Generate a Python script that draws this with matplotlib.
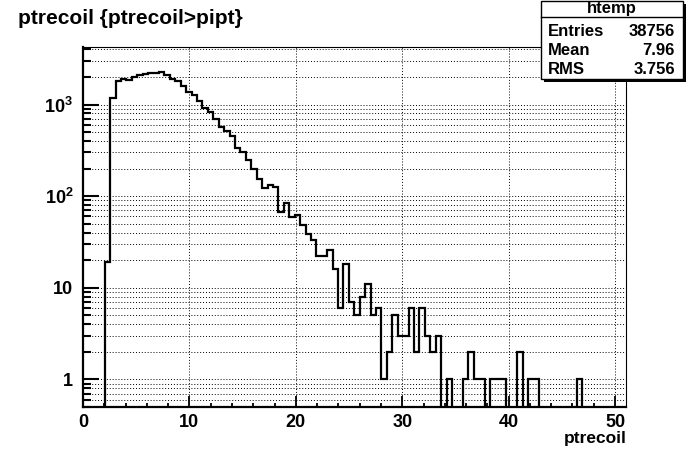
import numpy as np
import matplotlib
matplotlib.use("Agg")
import matplotlib.pyplot as plt
from matplotlib.ticker import MultipleLocator, LogLocator, FuncFormatter, NullFormatter
from matplotlib.patches import Rectangle

plt.rcParams['font.family'] = ['Liberation Sans', 'DejaVu Sans']
plt.rcParams['font.weight'] = 'bold'
plt.rcParams['mathtext.fontset'] = 'custom'
plt.rcParams['mathtext.rm'] = 'Liberation Sans:bold'
plt.rcParams['mathtext.bf'] = 'Liberation Sans:bold'
plt.rcParams['mathtext.it'] = 'Liberation Sans:bold'

# histogram htemp: 100 bins over [0, 51]
x_min, x_max, n_bins = 0.0, 51.0, 100
counts = [
    0, 0, 0, 0, 19, 1186, 1820, 1913, 1850, 2010,
    2113, 2167, 2222, 2230, 2280, 2084, 1913, 1820, 1592, 1380,
    1270, 1100, 922, 822, 695, 569, 514, 456, 337, 305,
    248, 198, 154, 122, 132, 126, 67, 85, 59, 63,
    49, 39, 33, 22, 22, 26, 16, 6, 18, 7,
    5, 8, 11, 5, 6, 1, 2, 5, 3, 3,
    6, 2, 6, 3, 2, 3, 0, 1, 0, 0,
    1, 2, 1, 1, 0, 1, 1, 1, 0, 0,
    2, 0, 1, 1, 0, 0, 0, 0, 0, 0,
    0, 1, 0, 0, 0, 0, 0, 0, 0, 0,
]
title = "ptrecoil {ptrecoil>pipt}"
x_title = "ptrecoil"
stats_name = "htemp"
stats_labels = ["Entries", "Mean", "RMS"]
stats_values = ["38756", "7.96", "3.756"]

W, H = 696, 474


def fx(px):
    return px / W


def fy(py):
    return 1 - py / H


fig = plt.figure(figsize=(W / 100, H / 100), dpi=100)
ax = fig.add_axes([fx(83), fy(406.9), (625.7 - 83) / W, (406.9 - 46.5) / H])

edges = np.linspace(x_min, x_max, n_bins + 1)
vals = np.array(counts, dtype=float)
vals = np.where(vals > 0, vals, 1e-3)  # empty bins drop to the frame bottom
ax.stairs(vals, edges, color='black', linewidth=1.6, baseline=None)

ax.set_yscale('log')
ax.set_xlim(x_min, x_max)
ax.set_ylim(0.5, 4300)

ax.xaxis.set_major_locator(MultipleLocator(10))
ax.xaxis.set_minor_locator(MultipleLocator(2))
ax.yaxis.set_major_locator(LogLocator(base=10))
ax.yaxis.set_minor_locator(LogLocator(base=10, subs=np.arange(2, 10)))


def ylab(v, pos):
    e = int(round(np.log10(v)))
    if e == 0:
        return '1'
    if e == 1:
        return '10'
    return r'$10^{%d}$' % e


ax.yaxis.set_major_formatter(FuncFormatter(ylab))
ax.yaxis.set_minor_formatter(NullFormatter())

ax.tick_params(axis='x', which='major', direction='in', length=8, width=1.3,
               labelsize=13, pad=5)
ax.tick_params(axis='x', which='minor', direction='in', length=3.2, width=1.3)
ax.tick_params(axis='y', which='major', direction='in', length=11.5, width=1.5,
               labelsize=13, pad=7)
ax.tick_params(axis='y', which='minor', direction='in', length=5.8, width=1.5)
for lab in ax.get_xticklabels() + ax.get_yticklabels():
    lab.set_fontweight('bold')

ax.grid(True, which='major', axis='x', color='black', linestyle=(0, (1, 2)), linewidth=0.7)
ax.grid(True, which='both', axis='y', color='black', linestyle=(0, (1, 2)), linewidth=0.7)

ax.spines['left'].set_linewidth(1.6)
ax.spines['bottom'].set_linewidth(1.6)
ax.spines['top'].set_linewidth(0.8)
ax.spines['right'].set_linewidth(0.8)

fig.text(fx(18), fy(18), title, ha='left', va='center', fontsize=15, fontweight='bold')
fig.text(fx(627), fy(438), x_title, ha='right', va='center', fontsize=12.5, fontweight='bold')

# stats box
bx0, bx1, by0, by1 = 541, 683, 1, 79
fig.patches.append(Rectangle((fx(bx0 + 3), fy(by1 + 3)), (bx1 - bx0) / W, (by1 - by0) / H,
                             transform=fig.transFigure, facecolor='black', edgecolor='none'))
fig.patches.append(Rectangle((fx(bx0), fy(by1)), (bx1 - bx0) / W, (by1 - by0) / H,
                             transform=fig.transFigure, facecolor='white', edgecolor='black',
                             linewidth=1.0))
fig.add_artist(plt.Line2D([fx(bx0), fx(bx1)], [fy(16.5), fy(16.5)], transform=fig.transFigure,
                          color='black', linewidth=1.0))
fig.text(fx((bx0 + bx1) / 2), fy(8.5), stats_name, ha='center', va='center',
         fontsize=12, fontweight='bold')
for i, (lab, val) in enumerate(zip(stats_labels, stats_values)):
    yy = 31 + i * 19.5
    fig.text(fx(548), fy(yy), lab, ha='left', va='center', fontsize=12, fontweight='bold')
    fig.text(fx(675), fy(yy), val, ha='right', va='center', fontsize=12, fontweight='bold')

fig.savefig('out.png', dpi=100)
